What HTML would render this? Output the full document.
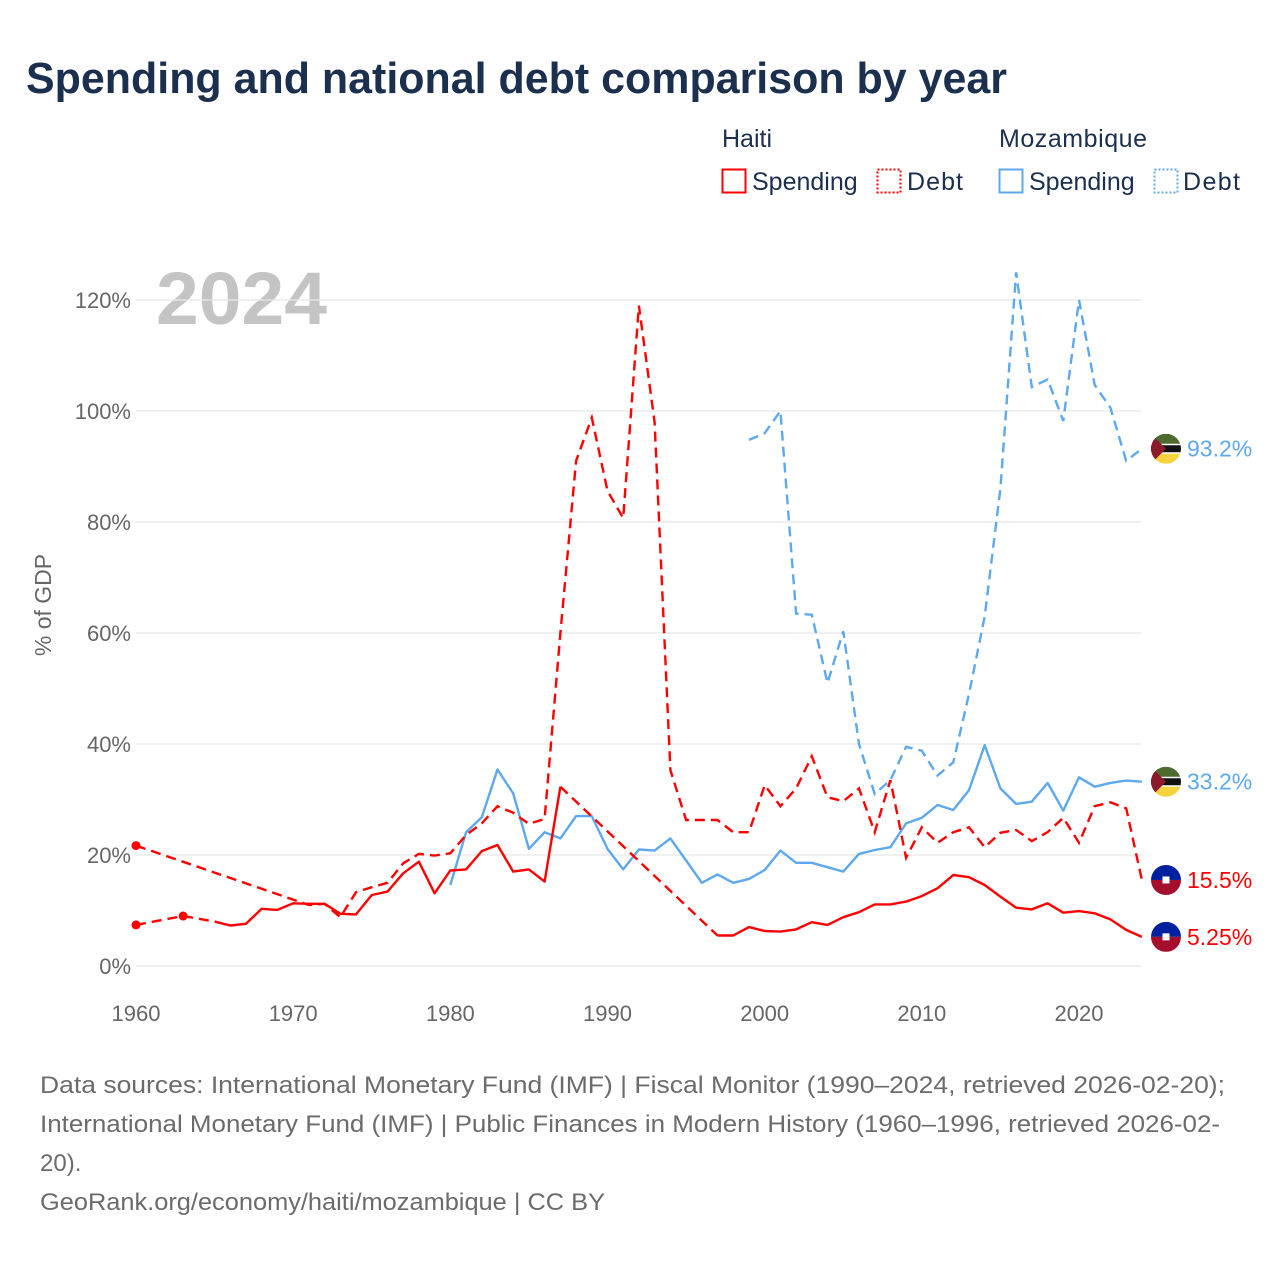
<!DOCTYPE html>
<html><head><meta charset="utf-8">
<style>
body{margin:0;background:#fff;}
svg{display:block;font-family:"Liberation Sans",sans-serif;}
</style></head>
<body>
<svg id="chart" width="1280" height="1280" viewBox="0 0 1280 1280" xmlns="http://www.w3.org/2000/svg">
<rect width="1280" height="1280" fill="#fff"/>
<text x="26" y="93" font-size="44" font-weight="bold" fill="#1b2f4e" textLength="981" lengthAdjust="spacingAndGlyphs">Spending and national debt comparison by year</text>
<g font-size="25" fill="#1b2f4e">
<text x="722" y="147">Haiti</text>
<text x="999" y="147" textLength="148">Mozambique</text>
<g><rect x="722.5" y="169.5" width="23" height="23" fill="none" stroke="#ff0000" stroke-width="2"/><text x="752" y="190">Spending</text></g>
<g><rect x="877.5" y="169.5" width="23" height="23" fill="none" stroke="#ff0000" stroke-width="2" stroke-dasharray="2,2"/><text x="907" y="190" textLength="56">Debt</text></g>
<g><rect x="999.5" y="169.5" width="23" height="23" fill="none" stroke="#5ea8ec" stroke-width="2"/><text x="1029" y="190">Spending</text></g>
<g><rect x="1154.5" y="169.5" width="23" height="23" fill="none" stroke="#5ea8ec" stroke-width="2" stroke-dasharray="2,2"/><text x="1183" y="190" textLength="57">Debt</text></g>
</g>
<text x="156" y="324" font-size="74" font-weight="bold" fill="#c4c4c4" textLength="171" lengthAdjust="spacingAndGlyphs">2024</text>
<text transform="translate(51,605) rotate(-90)" text-anchor="middle" font-size="23" fill="#666">% of GDP</text>
<g id="grid"></g><g id="series"></g><g id="ends"></g>
<g font-size="24" fill="#6b6b6b">
<text x="40" y="1093" textLength="1185" lengthAdjust="spacingAndGlyphs">Data sources: International Monetary Fund (IMF) | Fiscal Monitor (1990–2024, retrieved 2026-02-20);</text>
<text x="40" y="1132" textLength="1180" lengthAdjust="spacingAndGlyphs">International Monetary Fund (IMF) | Public Finances in Modern History (1960–1996, retrieved 2026-02-</text>
<text x="40" y="1171">20).</text>
<text x="40" y="1210" textLength="565" lengthAdjust="spacingAndGlyphs">GeoRank.org/economy/haiti/mozambique | CC BY</text>
</g>
</svg>
<script>
const startYear = 1960;
const yTicks = [0,20,40,60,80,100,120];
const xTicks = [1960,1970,1980,1990,2000,2010,2020];
const haitiSpending = [7.4,null,null,9.0,null,8.0,7.3,7.6,10.3,10.1,11.3,11.2,11.2,9.4,9.3,12.8,13.4,16.7,18.8,13.1,17.2,17.4,20.7,21.8,17.0,17.4,15.2,32.3,null,null,null,null,null,null,null,null,null,5.5,5.5,7.0,6.3,6.2,6.6,7.9,7.4,8.8,9.7,11.1,11.1,11.6,12.6,14.0,16.4,16.0,14.6,12.5,10.5,10.2,11.3,9.6,9.9,9.5,8.4,6.5,5.25];
const haitiDebt = [21.7,null,null,null,null,null,null,null,null,null,null,11.0,11.2,8.8,13.3,14.2,15.0,18.5,20.2,19.9,20.3,23.6,25.7,28.8,27.6,25.6,26.5,60,91,98.8,85.6,80.7,119,98,35.3,26.3,26.3,26.3,24.1,24.1,32.6,28.8,32.0,37.8,30.4,29.7,32.0,24.1,33.5,19.5,25.0,22.2,24.1,25.0,21.4,24.0,24.5,22.5,24.1,26.7,22.2,28.8,29.5,28.4,15.5];
const mozSpending = [null,null,null,null,null,null,null,null,null,null,null,null,null,null,null,null,null,null,null,null,14.6,24.1,26.8,35.4,31.1,21.1,24.1,23.0,27.0,27.0,21.1,17.4,21.0,20.8,23.0,19.0,15.0,16.5,15.0,15.7,17.3,20.8,18.6,18.6,17.8,17.0,20.2,20.9,21.4,25.7,26.7,29.0,28.1,31.7,39.8,32.0,29.2,29.6,33.0,28.0,34.0,32.3,33.0,33.4,33.2];
const mozDebt = [null,null,null,null,null,null,null,null,null,null,null,null,null,null,null,null,null,null,null,null,null,null,null,null,null,null,null,null,null,null,null,null,null,null,null,null,null,null,null,94.8,96.0,100.0,63.5,63.3,51.0,60.3,40.0,31.0,33.5,39.5,38.8,34.3,36.7,49.0,63.0,86.0,125.0,104.3,105.7,98.2,120.0,104.7,100.6,91.0,93.2];
const endLabels = ["93.2%","33.2%","15.5%","5.25%"];

const NS="http://www.w3.org/2000/svg";
const X0=136, XW=(1079-136)/60, Y0=966, YS=666/120;
const xs=yr=>X0+(yr-startYear)*XW;
const ys=v=>Y0-v*YS;
function mk(tag,attrs,parent){const e=document.createElementNS(NS,tag);for(const k in attrs)e.setAttribute(k,attrs[k]);parent.appendChild(e);return e;}
const grid=document.getElementById('grid');
yTicks.forEach(t=>{
  const l=mk('line',{x1:136,x2:1141,y1:ys(t),y2:ys(t),stroke:'#e6e6e6','stroke-width':1.3},grid);
  
  
  const tx=mk('text',{x:131,y:ys(t)+8,'text-anchor':'end','font-size':22,fill:'#666'},grid);
  tx.textContent=t+'%';
  
  
});
xTicks.forEach(t=>{
  const tx=mk('text',{x:xs(t),y:1021,'text-anchor':'middle','font-size':22,fill:'#666'},grid);
  tx.textContent=t;
  
  
});
const ser=document.getElementById('series');
function draw(vals,color,dashed,name){
  const g=mk('g',{},ser);
  
  
  const pts=[];vals.forEach((v,i)=>{if(v!==null)pts.push([startYear+i,v]);});
  let solid='',dash='';
  for(let k=0;k<pts.length;k++){
    const [yr,v]=pts[k];const px=xs(yr).toFixed(1),py=ys(v).toFixed(1);
    if(k===0){solid+=`M${px},${py}`;continue;}
    const [py0,pv0]=pts[k-1];
    if(yr-py0===1 && !dashed){solid+=`L${px},${py}`;}
    else{dash+=`M${xs(py0).toFixed(1)},${ys(pv0).toFixed(1)}L${px},${py}`;solid+=`M${px},${py}`;}
  }
  if(dashed){dash=pts.map((p,k)=>(k?'L':'M')+xs(p[0]).toFixed(1)+','+ys(p[1]).toFixed(1)).join('');solid='';}
  if(solid)mk('path',{d:solid,fill:'none',stroke:color,'stroke-width':2.4,'stroke-linejoin':'round'},g);
  if(dash)mk('path',{d:dash,fill:'none',stroke:color,'stroke-width':2.4,'stroke-dasharray':'10,6'},g);
  pts.forEach((p,k)=>{
    const prev=k>0&&pts[k-1][0]===p[0]-1, next=k<pts.length-1&&pts[k+1][0]===p[0]+1;
    if(!prev&&!next){const c=mk('circle',{cx:xs(p[0]),cy:ys(p[1]),r:4.5,fill:color},g);
      
      }
  });
}
draw(mozDebt,'#5ea8ec',true,'mozambique-debt');
draw(mozSpending,'#5ea8ec',false,'mozambique-spending');
draw(haitiDebt,'#ff0000',true,'haiti-debt');
draw(haitiSpending,'#ff0000',false,'haiti-spending');

const ends=document.getElementById('ends');
const endSeries=[[mozDebt,'moz','#5ea8ec'],[mozSpending,'moz','#5ea8ec'],[haitiDebt,'haiti','#ff0000'],[haitiSpending,'haiti','#ff0000']];
endSeries.forEach((s,i)=>{
  const v=s[0][s[0].length-1];const cy=ys(v), cx=1166;
  const g=mk('g',{},ends);
  
  
  const id='clip'+i;
  const cp=mk('clipPath',{id:id},g);mk('circle',{cx:cx,cy:cy,r:15},cp);
  const f=mk('g',{'clip-path':`url(#${id})`},g);
  if(s[1]==='haiti'){
    mk('rect',{x:cx-15,y:cy-15,width:30,height:15,fill:'#00209f'},f);
    mk('rect',{x:cx-15,y:cy,width:30,height:15,fill:'#a50f2d'},f);
    mk('rect',{x:cx-3.5,y:cy-3.5,width:7,height:7,fill:'#fff'},f);
  }else{
    mk('rect',{x:cx-15,y:cy-15,width:30,height:11,fill:'#4e6b2f'},f);
    mk('rect',{x:cx-15,y:cy-4,width:30,height:8,fill:'#111'},f);
    mk('rect',{x:cx-15,y:cy-5,width:30,height:1.5,fill:'#fff'},f);
    mk('rect',{x:cx-15,y:cy+3.5,width:30,height:1.5,fill:'#fff'},f);
    mk('rect',{x:cx-15,y:cy+5,width:30,height:10,fill:'#f5d33d'},f);
    mk('path',{d:`M${cx-15},${cy-15}L${cx},${cy}L${cx-15},${cy+15}Z`,fill:'#8b1a2b'},f);
  }
  const t=mk('text',{x:1187,y:cy+8,'font-size':23,fill:s[2]},g);
  t.textContent=endLabels[i];
});
</script>
</body></html>
